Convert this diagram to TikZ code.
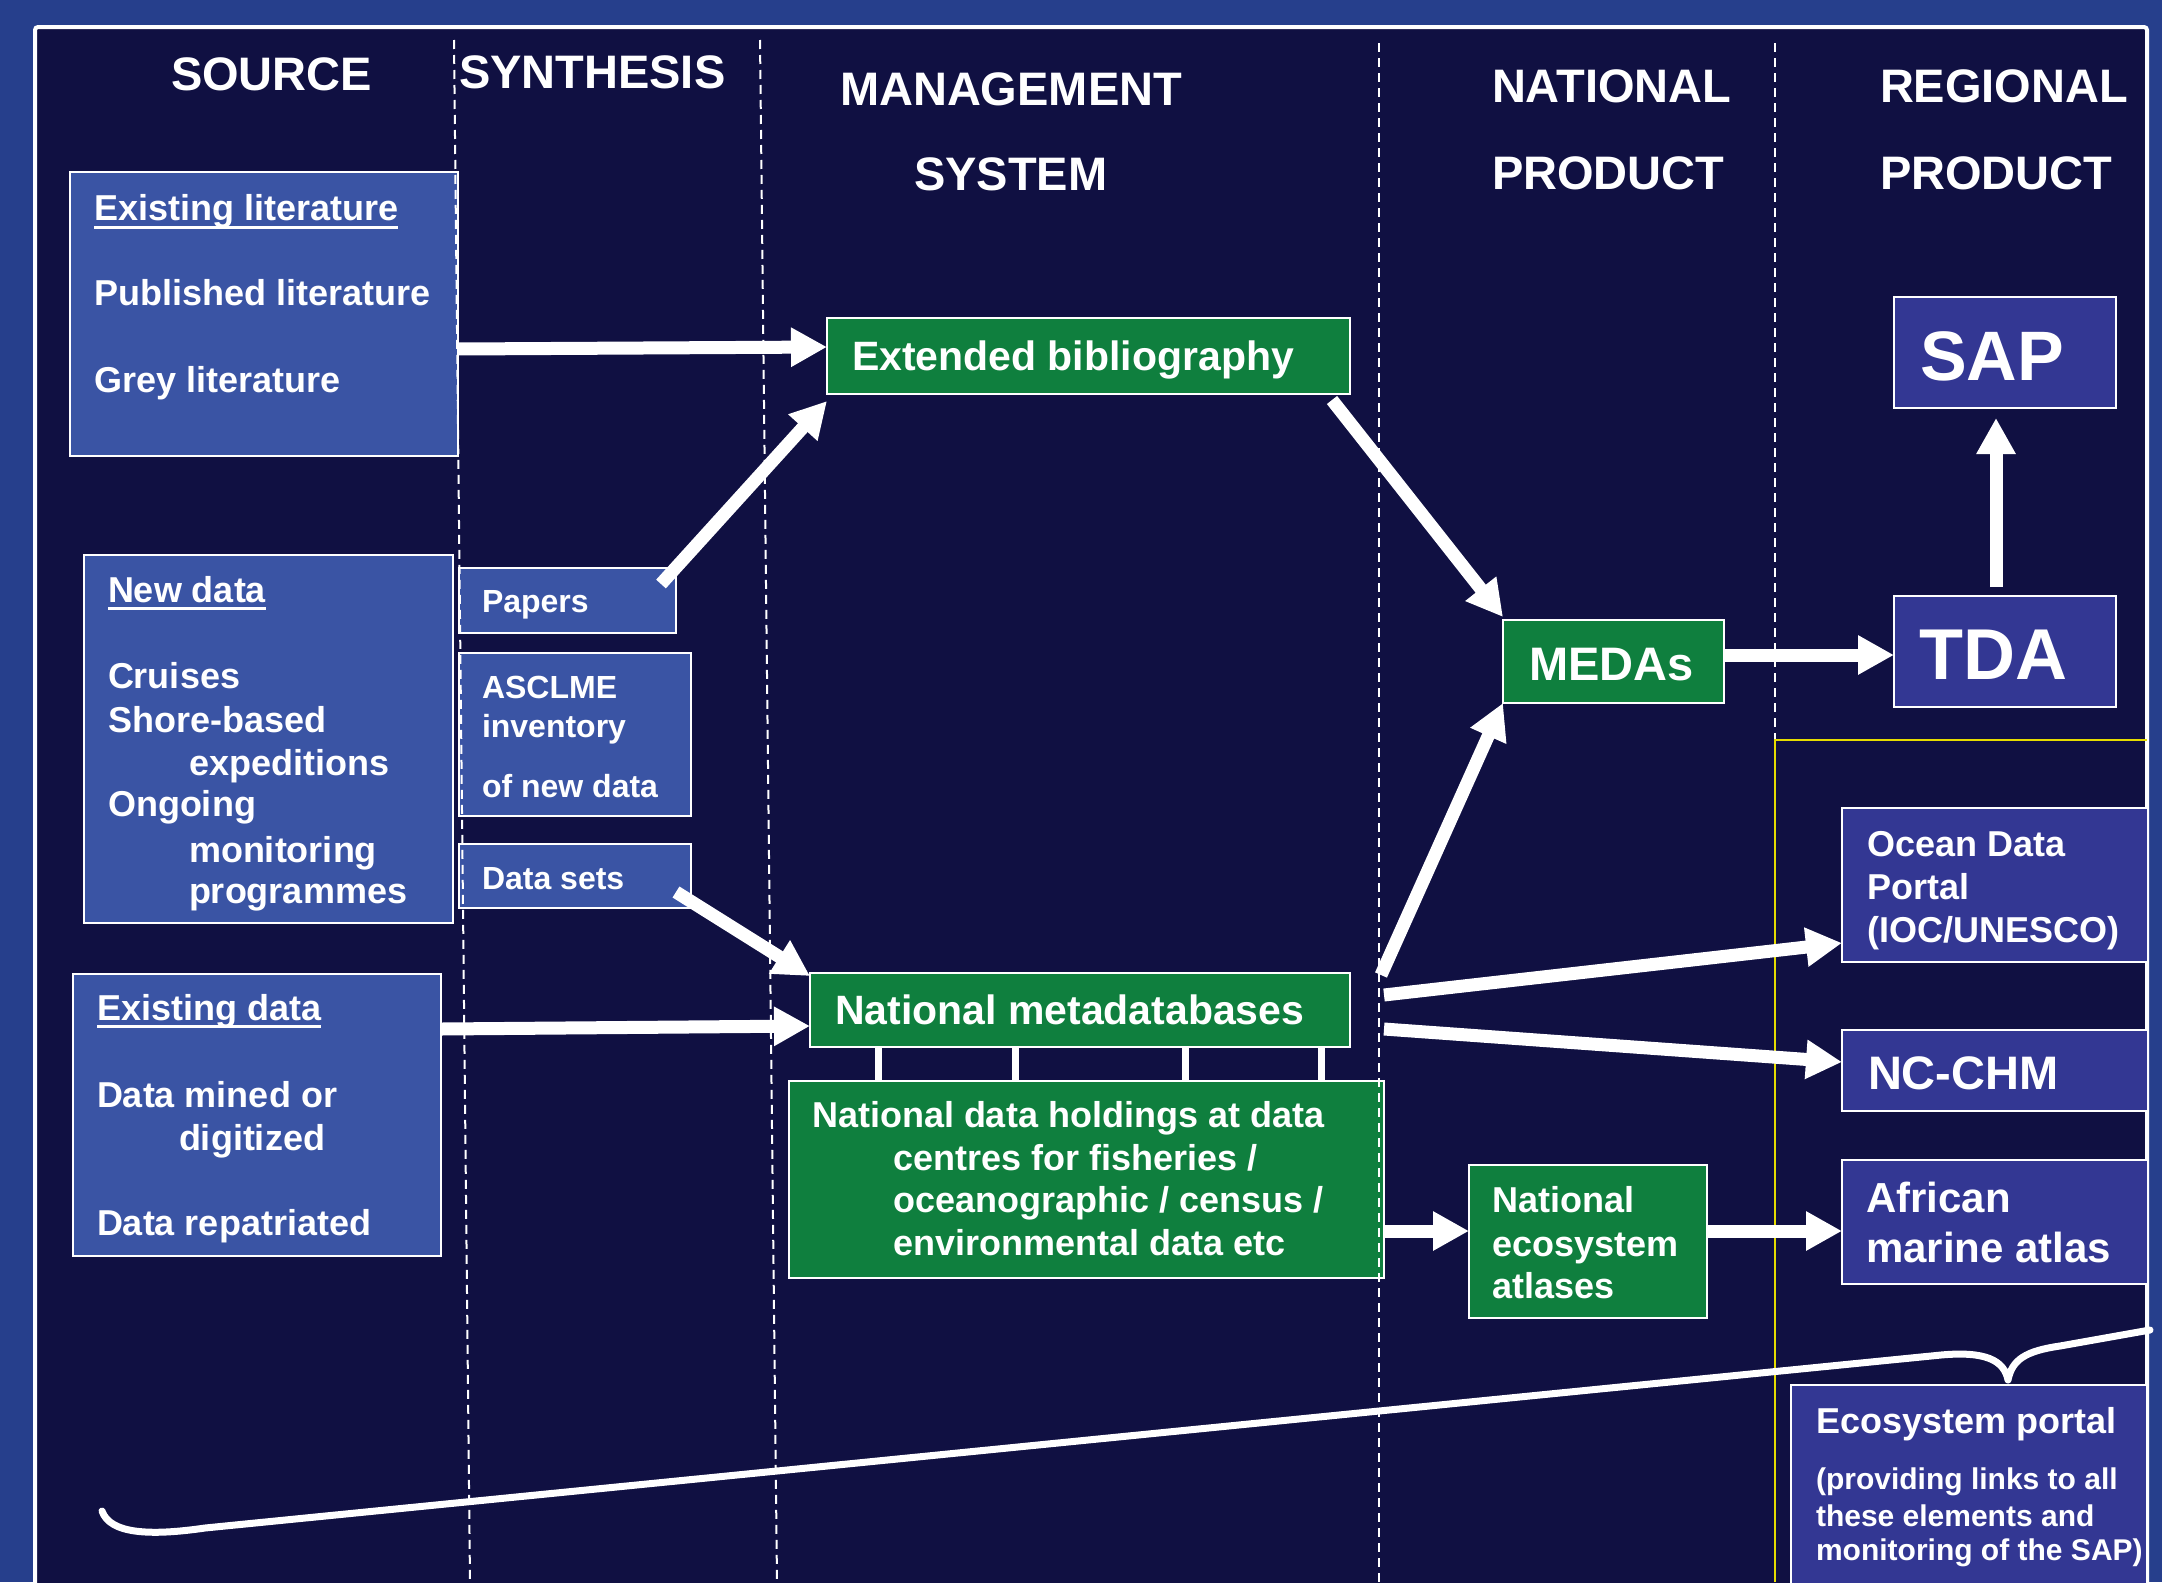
\documentclass[tikz,border=0pt]{standalone}
\usepackage{fontspec}
\setmainfont{Liberation Sans}
\usetikzlibrary{arrows.meta}
\definecolor{outerblue}{HTML}{263F8C}
\definecolor{navy}{HTML}{101042}
\definecolor{srcblue}{HTML}{3A54A4}
\definecolor{regblue}{HTML}{333793}
\definecolor{mgreen}{HTML}{0F7F3E}
\definecolor{ylw}{HTML}{E6DC00}
\begin{document}
\begin{tikzpicture}[x=1pt,y=-1pt,
 txt/.style={anchor=base west, inner sep=0pt, outer sep=0pt, text=white, font=\bfseries\fontsize{#1}{#1}\selectfont},
 txt/.default=36,
 bx/.style={draw=white, line width=2pt, anchor=north west, inner sep=0pt, outer sep=0pt},
 srcbox/.style={bx, fill=srcblue},
 grbox/.style={bx, fill=mgreen},
 regbox/.style={bx, fill=regblue},
 arr/.style={draw=white, line width=13pt, -{Triangle[length=36pt,width=37pt]}},
 linkbar/.style={draw=white, line width=7pt},
 colsep/.style={draw=white, line width=2pt, dash pattern=on 9pt off 6pt},
 uline/.style={draw=white, line width=3pt},
]
\useasboundingbox (0,0) rectangle (2162,1582);
\clip (0,0) rectangle (2162,1582);
\fill[outerblue] (0,0) rectangle (2162,1582);
\draw[white, line width=4pt, fill=navy, rounded corners=3pt] (35,27) rectangle (2147,1640);

% boxes
\node[srcbox, minimum width=388pt, minimum height=284pt] (lit) at (70,172) {};
\node[srcbox, minimum width=369pt, minimum height=368pt] (newd) at (84,555) {};
\node[srcbox, minimum width=368pt, minimum height=282pt] (exd) at (73,974) {};
\node[srcbox, minimum width=217pt, minimum height=65pt] (papers) at (459,568) {};
\node[srcbox, minimum width=232pt, minimum height=163pt] (asclme) at (459,653) {};
\node[srcbox, minimum width=232pt, minimum height=64pt] (datasets) at (459,844) {};
\node[grbox, minimum width=523pt, minimum height=76pt] (extbib) at (827,318) {};
\node[grbox, minimum width=540pt, minimum height=74pt] (meta) at (810,973) {};
\node[grbox, minimum width=595pt, minimum height=197pt] (hold) at (789,1081) {};
\node[grbox, minimum width=221pt, minimum height=83pt] (medas) at (1503,620) {};
\node[grbox, minimum width=238pt, minimum height=153pt] (neatl) at (1469,1165) {};
\node[regbox, minimum width=222pt, minimum height=111pt] (sap) at (1894,297) {};
\node[regbox, minimum width=222pt, minimum height=111pt] (tda) at (1894,596) {};
\node[regbox, minimum width=306pt, minimum height=154pt] (odp) at (1842,808) {};
\node[regbox, minimum width=306pt, minimum height=81pt] (ncchm) at (1842,1030) {};
\node[regbox, minimum width=306pt, minimum height=124pt] (afr) at (1842,1160) {};
\node[regbox, minimum width=356pt, minimum height=260pt] (ecop) at (1791,1385) {};

% column separators
\draw[colsep] (454,40) -- (470,1582);
\draw[colsep] (760,40) -- (777,1582);
\draw[colsep] (1379,43) -- (1379,1582);
\draw[colsep] (1775,43) -- (1775,740);
\draw[ylw, line width=2pt] (1775,1582) -- (1775,740) -- (2147,740);

% headers
\node[txt=47] (hsrc) at (171,90) {SOURCE};
\node[txt=47] (hsyn) at (459,88) {SYNTHESIS};
\node[txt=47] (hman) at (840,105) {MANAGEMENT};
\node[txt=47] (hsys) at (914,190) {SYSTEM};
\node[txt=47] (hnat) at (1492,102) {NATIONAL};
\node[txt=47] (hnp) at (1492,189) {PRODUCT};
\node[txt=47] (hreg) at (1880,102) {REGIONAL};
\node[txt=47] (hrp) at (1880,189) {PRODUCT};

% source texts
\node[txt] (t1) at (94,220) {Existing literature};
\draw[uline] ([yshift=-7pt]t1.base west) -- ([yshift=-7pt]t1.base east);
\node[txt] (t2) at (94,305) {Published literature};
\node[txt] (t3) at (94,392) {Grey literature};
\node[txt] (t4) at (108,602) {New data};
\draw[uline] ([yshift=-6pt]t4.base west) -- ([yshift=-6pt]t4.base east);
\node[txt] (t5) at (108,688) {Cruises};
\node[txt] (t6) at (108,732) {Shore-based};
\node[txt] (t7) at (189,775) {expeditions};
\node[txt] (t8) at (108,816) {Ongoing};
\node[txt] (t9) at (189,862) {monitoring};
\node[txt] (t10) at (189,903) {programmes};
\node[txt] (t11) at (97,1020) {Existing data};
\draw[uline] ([yshift=-6pt]t11.base west) -- ([yshift=-6pt]t11.base east);
\node[txt] (t12) at (97,1107) {Data mined or};
\node[txt] (t13) at (179,1150) {digitized};
\node[txt] (t14) at (97,1235) {Data repatriated};

% synthesis texts
\node[txt=32] (s1) at (482,612) {Papers};
\node[txt=32] (s2) at (482,698) {ASCLME};
\node[txt=32] (s3) at (482,737) {inventory};
\node[txt=32] (s4) at (482,797) {of new data};
\node[txt=32] (s5) at (482,889) {Data sets};

% management texts
\node[txt=41] (m1) at (852,370) {Extended bibliography};
\node[txt=41] (m2) at (835,1024) {National metadatabases};
\node[txt] (m3) at (812,1127) {National data holdings at data};
\node[txt] (m4) at (893,1170) {centres for fisheries /};
\node[txt] (m5) at (893,1212) {oceanographic / census /};
\node[txt] (m6) at (893,1255) {environmental data etc};

% national texts
\node[txt=47] (n1) at (1529,680) {MEDAs};
\node[txt] (n2) at (1492,1212) {National};
\node[txt] (n3) at (1492,1256) {ecosystem};
\node[txt] (n4) at (1492,1298) {atlases};

% regional texts
\node[txt=70] (r1) at (1920,380) {SAP};
\node[txt=72] (r2) at (1919,679) {TDA};
\node[txt] (r3) at (1867,856) {Ocean Data};
\node[txt] (r4) at (1867,899) {Portal};
\node[txt] (r5) at (1867,942) {(IOC/UNESCO)};
\node[txt=47] (r6) at (1868,1089) {NC-CHM};
\node[txt=42] (r7) at (1866,1212) {African};
\node[txt=42] (r8) at (1866,1262) {marine atlas};
\node[txt] (r9) at (1816,1433) {Ecosystem portal};
\node[txt=30] (r10) at (1816,1489) {(providing links to all};
\node[txt=30] (r11) at (1816,1526) {these elements and};
\node[txt=30] (r12) at (1816,1560) {monitoring of the SAP)};

% arrows
\draw[arr] ([shift={(0,35)}]lit.east) -- ([shift={(0,-9)}]extbib.west);
\draw[arr] ([shift={(-15,16)}]papers.north east) -- ([shift={(0,7)}]extbib.south west);
\draw[arr] ([shift={(-15,16)}]datasets.east) -- ([shift={(0,3)}]meta.north west);
\draw[arr] ([shift={(0,55)}]exd.north east) -- ([shift={(0,16)}]meta.west);
\draw[arr] ([shift={(-18,6)}]extbib.south east) -- ([shift={(0,-3)}]medas.north west);
\draw[arr] ([shift={(31,-35)}]meta.east) -- (medas.south west);
\draw[arr] ([shift={(34,-15)}]meta.east) -- ([shift={(0,-19)}]odp.south west);
\draw[arr] ([shift={(34,19)}]meta.east) -- ([shift={(0,-8.5)}]ncchm.west);
\draw[arr] ([shift={(0,51.5)}]hold.east) -- ([shift={(0,-10.5)}]neatl.west);
\draw[arr] ([shift={(0,-10.5)}]neatl.east) -- ([shift={(0,9)}]afr.west);
\draw[arr] ([shift={(0,-6.5)}]medas.east) -- ([shift={(0,3.5)}]tda.west);
\draw[arr] ([shift={(-9,-9)}]tda.north) -- ([shift={(-9,10)}]sap.south);

% links between metadatabases and data holdings
\foreach \dx in {-202,-65,105,241}
  \draw[linkbar] ([xshift=\dx pt]meta.south) -- ([xshift=\dx pt]meta.south |- hold.north);

% brace
\draw[white, line width=7pt, line cap=round, line join=round]
  (102,1511) .. controls (110,1534) and (150,1536) .. (205,1528)
  -- (1941,1355) .. controls (1985,1351) and (2004,1360) .. (2008,1380)
  .. controls (2012,1360) and (2025,1351) .. (2060,1346) -- (2150,1330);
\end{tikzpicture}
\end{document}
